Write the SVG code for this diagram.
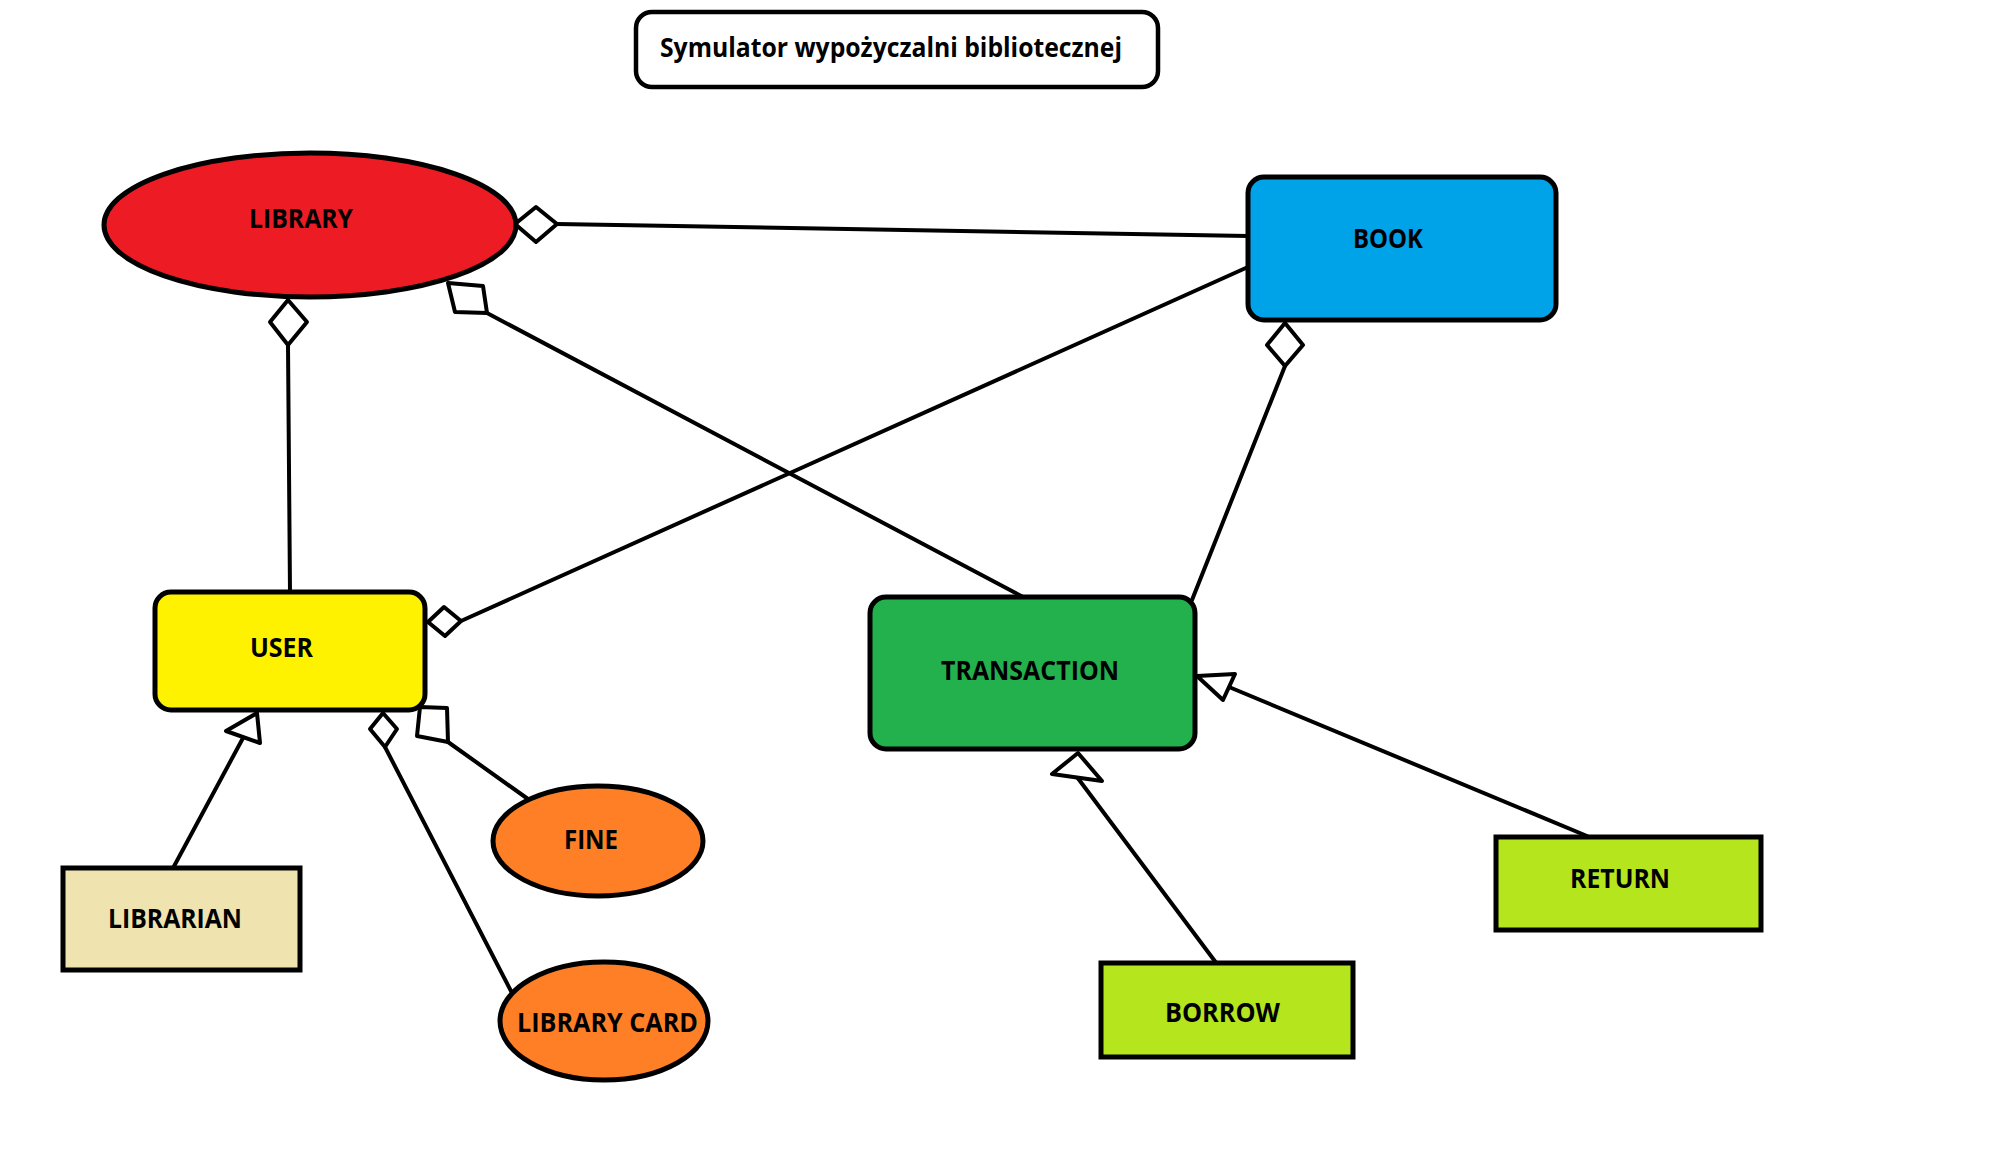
<svg xmlns="http://www.w3.org/2000/svg" width="1999" height="1154" viewBox="0 0 1999 1154">
<style>
.box{stroke:#000;stroke-width:5}
.lbl{font-family:"Open Sans","Liberation Sans",sans-serif;font-weight:700;font-size:26px;fill:#000}
.ln{stroke:#000;stroke-width:4;fill:none;stroke-linecap:round}
.hd{stroke:#000;stroke-width:4;fill:#fff;stroke-linejoin:round}
</style>
<rect width="1999" height="1154" fill="#fff"/>
<g id="title">
<rect x="636" y="12" width="522" height="75" rx="16" fill="#fff" stroke="#000" stroke-width="4.5"/>
<text class="lbl" x="660" y="57" textLength="462" lengthAdjust="spacingAndGlyphs">Symulator wypożyczalni bibliotecznej</text>
</g>
<g id="connectors">
<line class="ln" x1="557" y1="224" x2="1248" y2="236"/>
<polygon class="hd" points="515,224 536,207 557,224 536,242"/>
<line class="ln" x1="288" y1="345" x2="290" y2="592"/>
<polygon class="hd" points="288,300 307,322 288,345 270,322"/>
<line class="ln" x1="487" y1="313" x2="1023" y2="597"/>
<polygon class="hd" points="448,283 483,286 487,313 455,312"/>
<line class="ln" x1="1248" y1="267" x2="461" y2="621"/>
<polygon class="hd" points="428,622 444,607 461,621 445,636"/>
<line class="ln" x1="1285" y1="366" x2="1192" y2="600"/>
<polygon class="hd" points="1285,323 1303,345 1285,366 1267,345"/>
<line class="ln" x1="385" y1="747" x2="512" y2="993"/>
<polygon class="hd" points="383,713 397,729 385,747 370,729"/>
<line class="ln" x1="448" y1="742" x2="528" y2="799"/>
<polygon class="hd" points="420,707 447,708 448,742 417,736"/>
<line class="ln" x1="172" y1="870" x2="243" y2="738"/>
<polygon class="hd" points="257,713 226,731 260,743"/>
<line class="ln" x1="1217" y1="964" x2="1077" y2="777"/>
<polygon class="hd" points="1078,753 1052,774 1102,781"/>
<line class="ln" x1="1587" y1="836" x2="1229" y2="687"/>
<polygon class="hd" points="1197,676 1235,674 1223,700"/>
</g>
<g id="library">
<ellipse class="box" cx="310" cy="225" rx="206" ry="72" fill="#ED1C24"/>
<text class="lbl" x="249" y="228" textLength="104" lengthAdjust="spacingAndGlyphs">LIBRARY</text>
</g>
<g id="book">
<rect class="box" x="1248" y="177" width="308" height="143" rx="16" fill="#00A2E8"/>
<text class="lbl" x="1353" y="248" textLength="70" lengthAdjust="spacingAndGlyphs">BOOK</text>
</g>
<g id="user">
<rect class="box" x="155" y="592" width="270" height="118" rx="16" fill="#FFF200"/>
<text class="lbl" x="250" y="657" textLength="63" lengthAdjust="spacingAndGlyphs">USER</text>
</g>
<g id="transaction">
<rect class="box" x="870" y="597" width="325" height="152" rx="16" fill="#22B14C"/>
<text class="lbl" x="941" y="680" textLength="178" lengthAdjust="spacingAndGlyphs">TRANSACTION</text>
</g>
<g id="librarian">
<rect class="box" x="63" y="868" width="237" height="102" fill="#EFE4B0"/>
<text class="lbl" x="108" y="928" textLength="134" lengthAdjust="spacingAndGlyphs">LIBRARIAN</text>
</g>
<g id="fine">
<ellipse class="box" cx="598" cy="841" rx="105" ry="55" fill="#FF7F27"/>
<text class="lbl" x="564" y="849" textLength="54" lengthAdjust="spacingAndGlyphs">FINE</text>
</g>
<g id="library-card">
<ellipse class="box" cx="604" cy="1021" rx="104" ry="59" fill="#FF7F27"/>
<text class="lbl" x="517" y="1032" textLength="181" lengthAdjust="spacingAndGlyphs">LIBRARY CARD</text>
</g>
<g id="borrow">
<rect class="box" x="1101" y="963" width="252" height="94" fill="#B5E61D"/>
<text class="lbl" x="1165" y="1022" textLength="115" lengthAdjust="spacingAndGlyphs">BORROW</text>
</g>
<g id="return">
<rect class="box" x="1496" y="837" width="265" height="93" fill="#B5E61D"/>
<text class="lbl" x="1570" y="888" textLength="100" lengthAdjust="spacingAndGlyphs">RETURN</text>
</g>
</svg>
